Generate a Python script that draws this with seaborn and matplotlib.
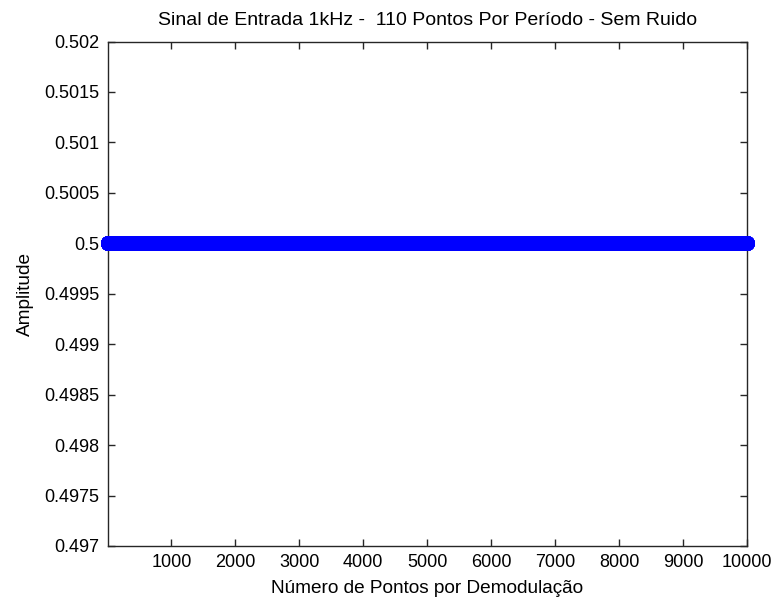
import numpy as np
import pandas as pd
import matplotlib
matplotlib.use("Agg")
import matplotlib.pyplot as plt
import seaborn as sns

# Data: constant 0.5 amplitude over 10000 demodulation points
n_points = 10000
amplitude_value = 0.5
x_points = np.arange(1, n_points + 1)
y_amplitude = np.full(n_points, amplitude_value)

x_ticks = [1000, 2000, 3000, 4000, 5000, 6000, 7000, 8000, 9000, 10000]
y_ticks = [0.497, 0.4975, 0.498, 0.4985, 0.499, 0.4995, 0.5, 0.5005, 0.501, 0.5015, 0.502]
y_tick_labels = ["0.497", "0.4975", "0.498", "0.4985", "0.499", "0.4995", "0.5",
                 "0.5005", "0.501", "0.5015", "0.502"]

title = "Sinal de Entrada 1kHz -  110 Pontos Por Período - Sem Ruido"
xlabel = "Número de Pontos por Demodulação"
ylabel = "Amplitude"

df = pd.DataFrame({"x": x_points, "y": y_amplitude})

sns.set_theme(style="white")
plt.rcParams['font.family'] = ['Liberation Sans', 'DejaVu Sans']

fig = plt.figure(figsize=(7.75, 6.01), dpi=100)
ax = fig.add_axes([107.5 / 775, 1 - 546 / 601, (747 - 107.5) / 775, (546 - 41.5) / 601])

sns.lineplot(data=df, x="x", y="y", ax=ax, color="#0000ff", marker="o",
             markersize=10, markeredgecolor="#0000ff", linewidth=1.0, clip_on=False,
             zorder=5)

ax.set_xlim(0, 10000)
ax.set_ylim(0.497, 0.502)
ax.set_xticks(x_ticks)
ax.set_xticklabels([str(t) for t in x_ticks])
ax.set_yticks(y_ticks)
ax.set_yticklabels(y_tick_labels)

fs = 13
ax.tick_params(direction="in", length=5, width=1, colors="#262626",
               labelsize=fs, labelcolor="black", top=True, right=True,
               bottom=True, left=True, pad=6)
for s in ax.spines.values():
    s.set_color("#262626")
    s.set_linewidth(1)

ax.set_title(title, fontsize=14, color="black", pad=12)
ax.set_xlabel(xlabel, fontsize=13.7, color="black", labelpad=6)
ax.set_ylabel(ylabel, fontsize=13.7, color="black", labelpad=7)

fig.savefig("out.png", dpi=100)
